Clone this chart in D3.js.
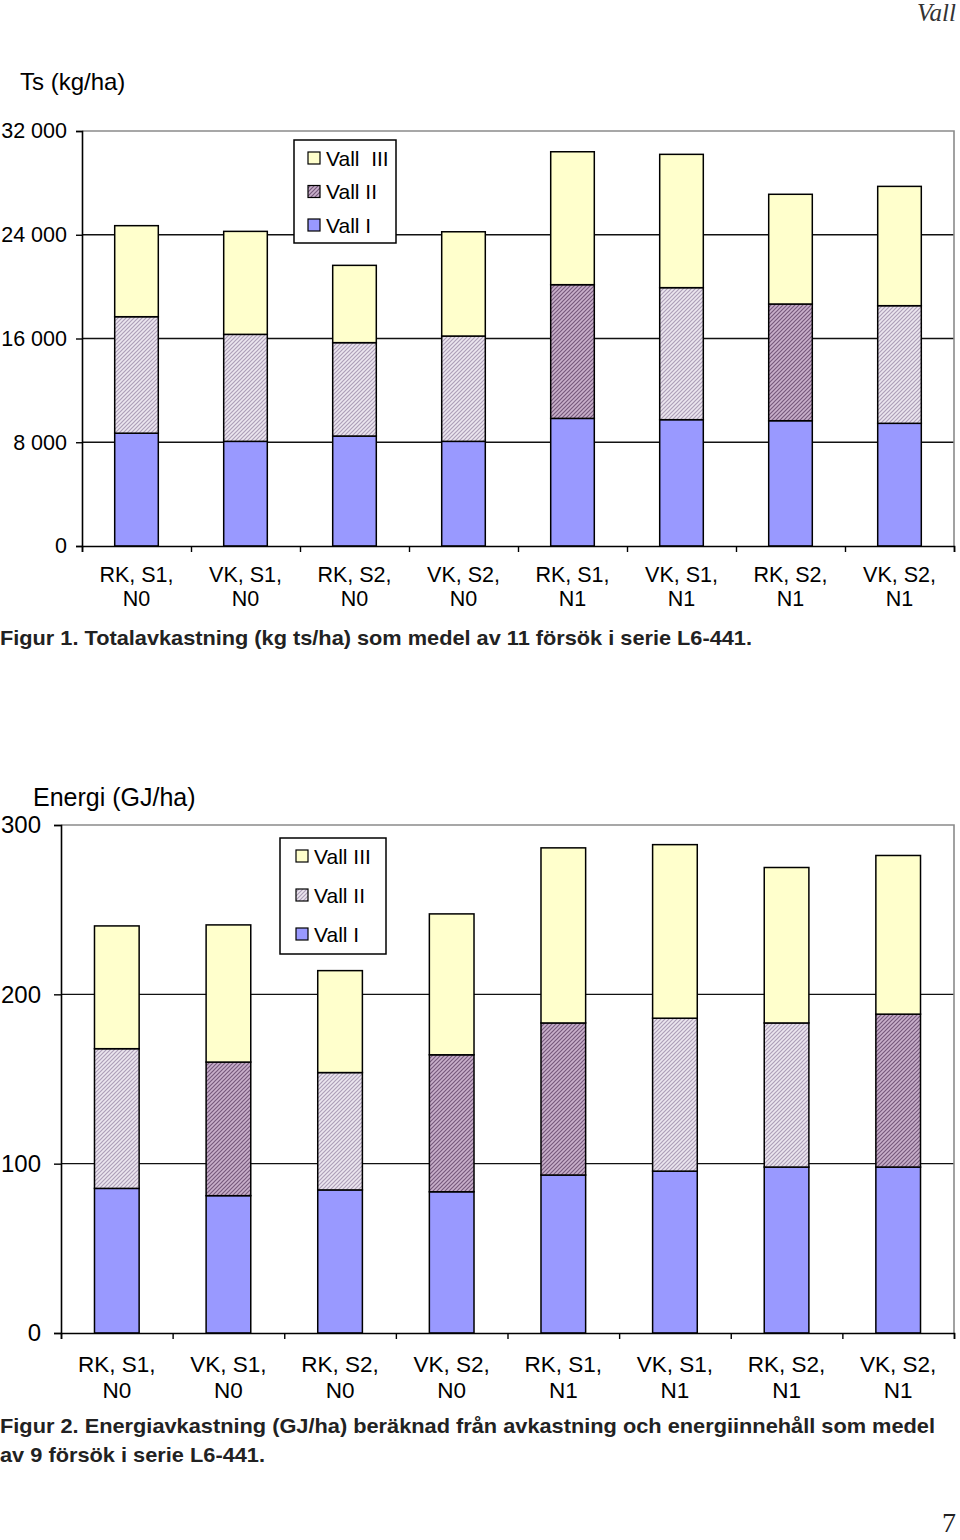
<!DOCTYPE html>
<html><head><meta charset="utf-8">
<script src="https://cdn.jsdelivr.net/npm/d3@7"></script>
<style>
html,body{margin:0;padding:0;background:#fff;}
svg{display:block;font-family:"Liberation Sans",Arial,sans-serif;}
text{white-space:pre;}
</style></head>
<body>
<script>
// ---------- DATA ----------
const categoriesLine1 = ["RK, S1,", "VK, S1,", "RK, S2,", "VK, S2,", "RK, S1,", "VK, S1,", "RK, S2,", "VK, S2,"];
const categoriesLine2 = ["N0", "N0", "N0", "N0", "N1", "N1", "N1", "N1"];
const seriesNames1 = ["Vall  III", "Vall II", "Vall I"];
const seriesNames2 = ["Vall III", "Vall II", "Vall I"];

// Figur 1: Ts (kg/ha), stacked segments
const tsVallI   = [8700, 8070, 8480, 8070, 9840, 9740, 9660, 9460];
const tsVallII  = [8980, 8250, 7200, 8120, 10310, 10180, 9000, 9070];
const tsVallIII = [7020, 7940, 5960, 8040, 10250, 10280, 8460, 9200];
const tsTicks = [0, 8000, 16000, 24000, 32000];

// Figur 2: Energi (GJ/ha), stacked segments
const enVallI   = [85.4, 81.1, 84.5, 83.4, 93.3, 95.6, 98.0, 98.0];
const enVallII  = [82.5, 78.9, 69.3, 80.9, 89.8, 90.3, 85.1, 90.3];
const enVallIII = [72.5, 81.0, 60.2, 83.2, 103.4, 102.5, 91.8, 93.7];
const enTicks = [0, 100, 200, 300];

// hatch density look (scan artefact) per bar
const darkHatch1 = [false, false, false, false, true, false, true, false];
const darkHatch2 = [false, true, false, true, true, false, false, true];

// ---------- SVG ----------
const W = 960, H = 1540;
const svg = d3.select("body").append("svg").attr("width", W).attr("height", H);
const defs = svg.append("defs");

function hatch(id, bg, fg) {
  const p = defs.append("pattern").attr("id", id).attr("patternUnits", "userSpaceOnUse")
    .attr("width", 4).attr("height", 4);
  p.append("rect").attr("width", 4).attr("height", 4).attr("fill", bg);
  p.append("path").attr("d", "M-1,1 L1,-1 M0,4 L4,0 M3,5 L5,3").attr("stroke", fg).attr("stroke-width", 1.2);
}
hatch("hLight", "#ece6ef", "#ad9fb8");
hatch("hDark", "#c9b0cb", "#76597c");

const colVallI = "#9999ff", colVallIII = "#ffffcc";

const fmtTs = d => d === 0 ? "0" : d3.format(",")(d).replace(/,/g, " ");

function drawChart(cfg) {
  const g = svg.append("g");
  const x = d3.scaleBand().domain(d3.range(8)).range([cfg.x0, cfg.x1]).padding(0);
  const y = d3.scaleLinear().domain([0, cfg.max]).range([cfg.y0, cfg.y1]);
  const xb = d3.scaleLinear().domain([0, 8]).range([cfg.x0, cfg.x1]);
  const bw = x.bandwidth() * 0.4;

  // gridlines
  g.append("g").selectAll("line").data(cfg.ticks.filter(t => t > 0 && t < cfg.max)).join("line")
    .attr("x1", cfg.x0).attr("x2", cfg.x1).attr("y1", d => y(d)).attr("y2", d => y(d))
    .attr("stroke", "#111").attr("stroke-width", 1.4);
  // top and right frame (grey)
  g.append("path").attr("d", `M${cfg.x0},${y(cfg.max)}H${cfg.x1}V${cfg.y0}`)
    .attr("fill", "none").attr("stroke", "#8a8a8a").attr("stroke-width", 1.6);

  // stacked bars
  const rows = d3.range(8).map(i => ({i, a: cfg.s1[i], b: cfg.s2[i], c: cfg.s3[i]}));
  const stack = d3.stack().keys(["a", "b", "c"])(rows);
  const fills = [() => colVallI, d => cfg.dark[d.data.i] ? "url(#hDark)" : "url(#hLight)", () => colVallIII];
  stack.forEach((layer, k) => {
    g.append("g").selectAll("rect").data(layer).join("rect")
      .attr("x", d => x(d.data.i) + (x.bandwidth() - bw) / 2)
      .attr("width", bw)
      .attr("y", d => y(d[1]))
      .attr("height", d => y(d[0]) - y(d[1]))
      .attr("fill", fills[k])
      .attr("stroke", "#000").attr("stroke-width", 1.5);
  });

  // y axis
  const ya = g.append("g").attr("transform", `translate(${cfg.x0},0)`)
    .call(d3.axisLeft(y).tickValues(cfg.ticks).tickSize(cfg.tickLen).tickFormat(cfg.fmt).tickPadding(cfg.tickPad));
  ya.select(".domain").attr("stroke", "#000").attr("stroke-width", 1.6);
  ya.selectAll(".tick line").attr("stroke", "#000").attr("stroke-width", 1.4);
  ya.selectAll("text").attr("font-size", cfg.yFont).attr("fill", "#000").attr("font-family", "Liberation Sans, Arial, sans-serif");

  // x axis (boundary ticks)
  const xa = g.append("g").attr("transform", `translate(0,${cfg.y0})`)
    .call(d3.axisBottom(xb).tickValues(d3.range(9)).tickSize(6).tickFormat(""));
  xa.select(".domain").attr("stroke", "#000").attr("stroke-width", 1.6);
  xa.selectAll(".tick line").attr("stroke", "#000").attr("stroke-width", 1.4);

  // category labels
  const lab = g.append("g").attr("font-size", cfg.xFont).attr("text-anchor", "middle").attr("fill", "#000");
  lab.selectAll("text.l1").data(categoriesLine1).join("text").attr("class", "l1")
    .attr("x", (d, i) => x(i) + x.bandwidth() / 2).attr("y", cfg.lab1).text(d => d);
  lab.selectAll("text.l2").data(categoriesLine2).join("text").attr("class", "l2")
    .attr("x", (d, i) => x(i) + x.bandwidth() / 2).attr("y", cfg.lab2).text(d => d);

  // legend
  const L = cfg.legend;
  const lg = g.append("g");
  lg.append("rect").attr("x", L.x).attr("y", L.y).attr("width", L.w).attr("height", L.h)
    .attr("fill", "#fff").attr("stroke", "#000").attr("stroke-width", 1.5);
  const lfill = [colVallIII, L.hatch, colVallI];
  cfg.names.forEach((n, k) => {
    const cy = L.y + L.first + k * L.step;
    lg.append("rect").attr("x", L.sx).attr("y", cy - L.sq / 2).attr("width", L.sq).attr("height", L.sq)
      .attr("fill", lfill[k]).attr("stroke", "#000").attr("stroke-width", 1.2);
    lg.append("text").attr("x", L.tx).attr("y", cy + L.font * 0.36).attr("font-size", L.font).attr("fill", "#000").text(n);
  });
}

// Page header / footer
svg.append("text").attr("x", 956).attr("y", 21).attr("text-anchor", "end")
  .attr("font-family", "Liberation Serif, Times New Roman, serif").attr("font-style", "italic")
  .attr("font-size", 25).attr("fill", "#333").text("Vall");
svg.append("text").attr("x", 956).attr("y", 1532).attr("text-anchor", "end")
  .attr("font-family", "Liberation Serif, Times New Roman, serif")
  .attr("font-size", 28).attr("fill", "#222").text("7");

// ---------- Figur 1 ----------
svg.append("text").attr("x", 20).attr("y", 90).attr("font-size", 24).attr("fill", "#000").text("Ts (kg/ha)");
drawChart({
  x0: 82, x1: 954, y0: 546, y1: 131, max: 32000, ticks: tsTicks, fmt: fmtTs,
  tickLen: 6, tickPad: 9, yFont: 21.5, xFont: 21.5, lab1: 582, lab2: 606,
  s1: tsVallI, s2: tsVallII, s3: tsVallIII, dark: darkHatch1, names: seriesNames1,
  legend: {x: 294, y: 140, w: 102, h: 103, first: 18, step: 33.5, sx: 308, sq: 12, tx: 326, font: 21, hatch: "url(#hDark)"}
});
svg.append("text").attr("x", 0).attr("y", 645).attr("font-size", 21).attr("font-weight", "bold")
  .attr("fill", "#222").attr("textLength", 752).attr("lengthAdjust", "spacingAndGlyphs")
  .text("Figur 1. Totalavkastning (kg ts/ha) som medel av 11 försök i serie L6-441.");

// ---------- Figur 2 ----------
svg.append("text").attr("x", 33).attr("y", 806).attr("font-size", 25).attr("fill", "#000").text("Energi (GJ/ha)");
drawChart({
  x0: 61, x1: 954, y0: 1333, y1: 825, max: 300, ticks: enTicks, fmt: d3.format("d"),
  tickLen: 7, tickPad: 13, yFont: 24, xFont: 22.5, lab1: 1372, lab2: 1398,
  s1: enVallI, s2: enVallII, s3: enVallIII, dark: darkHatch2, names: seriesNames2,
  legend: {x: 280, y: 838, w: 106, h: 116, first: 18, step: 39, sx: 296, sq: 12, tx: 314, font: 21, hatch: "url(#hLight)"}
});
svg.append("text").attr("x", 0).attr("y", 1433).attr("font-size", 21).attr("font-weight", "bold")
  .attr("fill", "#222").attr("textLength", 935).attr("lengthAdjust", "spacingAndGlyphs")
  .text("Figur 2. Energiavkastning (GJ/ha) beräknad från avkastning och energiinnehåll som medel");
svg.append("text").attr("x", 0).attr("y", 1462).attr("font-size", 21).attr("font-weight", "bold")
  .attr("fill", "#222").attr("textLength", 265).attr("lengthAdjust", "spacingAndGlyphs")
  .text("av 9 försök i serie L6-441.");
</script>
</body></html>
